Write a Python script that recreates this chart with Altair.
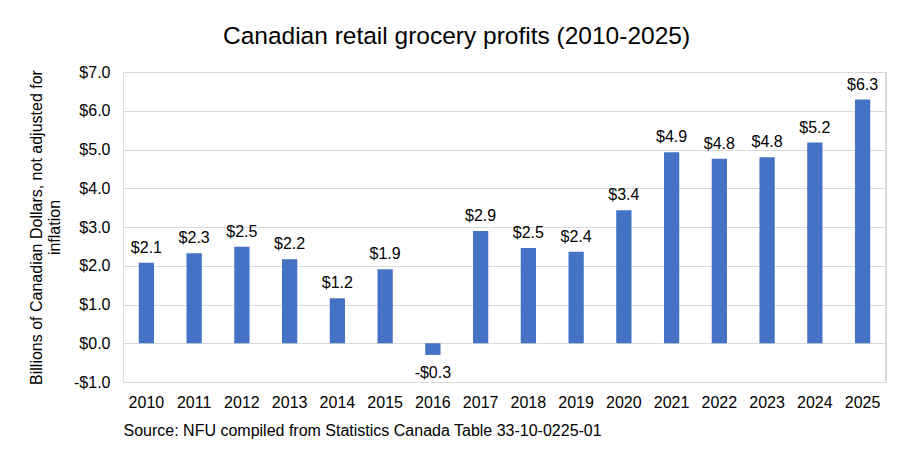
import altair as alt
import pandas as pd

years = [str(y) for y in range(2010, 2026)]
profits = [2.08, 2.32, 2.49, 2.17, 1.16, 1.91, -0.30, 2.90, 2.46, 2.36, 3.43, 4.93, 4.76, 4.80, 5.18, 6.29]
y_ticks = [-1, 0, 1, 2, 3, 4, 5, 6, 7]

df = pd.DataFrame({"year": years, "profit": profits})

FONT = "Liberation Sans"
BLUE = "#4472C4"
GRID = "#d9d9d9"

x_axis = alt.Axis(
    title="Source: NFU compiled from Statistics Canada Table 33-10-0225-01",
    titleAnchor="start",
    titleAlign="left",
    titleFont=FONT,
    titleFontSize=16,
    titleFontWeight="normal",
    titleColor="#000000",
    titlePadding=12,
    labelAngle=0,
    labelFont=FONT,
    labelFontSize=16,
    labelColor="#000000",
    labelPadding=12,
    ticks=False,
    domain=False,
)

y_axis = alt.Axis(
    title=["Billions of Canadian Dollars, not adjusted for", "inflation"],
    titleFont=FONT,
    titleFontSize=16,
    titleFontWeight="normal",
    titleColor="#000000",
    titlePadding=11,
    titleLineHeight=18,
    values=y_ticks,
    tickCount=20,
    labelOverlap=False,
    labelExpr="datum.value < 0 ? '-$' + format(-datum.value, '.1f') : '$' + format(datum.value, '.1f')",
    labelFont=FONT,
    labelFontSize=16,
    labelColor="#000000",
    labelPadding=13,
    ticks=False,
    domain=False,
    grid=True,
    gridColor=GRID,
    gridWidth=1.2,
)

x_scale = alt.Scale(paddingInner=0.68, paddingOuter=0.33)
y_scale = alt.Scale(domain=[-1, 7], nice=False, zero=False)


def xe():
    return alt.X("year:N", sort=years, scale=x_scale, axis=x_axis)


def ye():
    return alt.Y("profit:Q", scale=y_scale, axis=y_axis)


bars = alt.Chart(df).mark_bar(color=BLUE).encode(
    x=xe(),
    y=ye(),
    y2=alt.datum(0),
)

label_expr = "datum.profit < 0 ? '-$' + format(-datum.profit, '.1f') : '$' + format(datum.profit, '.1f')"

pos_labels = alt.Chart(df).transform_filter("datum.profit >= 0").transform_calculate(
    lbl=label_expr
).mark_text(font=FONT, fontSize=16, color="#000000", baseline="alphabetic", dy=-10).encode(
    x=xe(),
    y=ye(),
    text="lbl:N",
)

neg_labels = alt.Chart(df).transform_filter("datum.profit < 0").transform_calculate(
    lbl=label_expr
).mark_text(font=FONT, fontSize=16, color="#000000", baseline="top", dy=10).encode(
    x=xe(),
    y=ye(),
    text="lbl:N",
)

frame = alt.Chart(df).mark_rule(color=GRID, strokeWidth=1.2).encode(
    x=alt.value(763), y=alt.value(0), y2=alt.value(310)
)

chart = (
    alt.layer(bars, pos_labels, neg_labels, frame)
    .properties(
        width=763,
        height=310,
        title=alt.TitleParams(
            "Canadian retail grocery profits (2010-2025)",
            font=FONT,
            fontSize=24.5,
            fontWeight="normal",
            color="#000000",
            anchor="middle",
            dx=-48,
            offset=15,
        ),
        autosize=alt.AutoSizeParams(type="none"),
        padding={"left": 115, "top": 64, "right": 3, "bottom": 62},
    )
    .configure_view(stroke=None)
    .configure(background="white")
)

chart.save("out.html", embed_options={"renderer": "svg", "actions": False})
